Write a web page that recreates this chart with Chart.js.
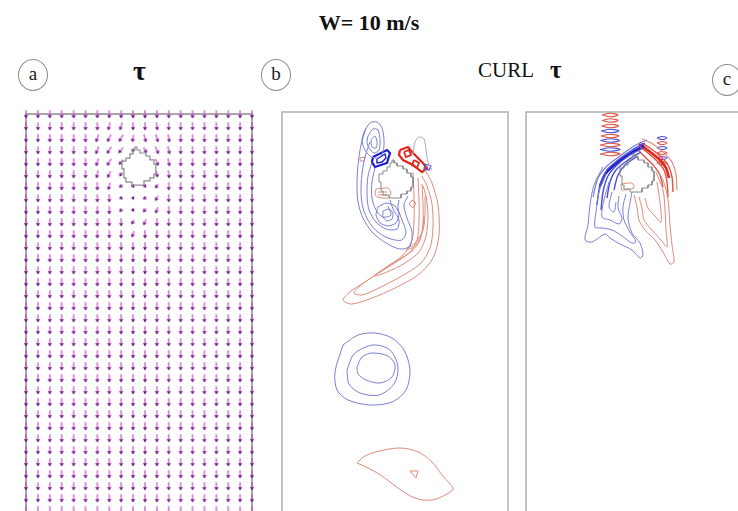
<!DOCTYPE html>
<html>
<head>
<meta charset="utf-8">
<script src="https://cdn.jsdelivr.net/npm/chart.js@4.4.1/dist/chart.umd.min.js"></script>
<style>
html, body { margin: 0; padding: 0; width: 738px; height: 511px; overflow: hidden; background: #fff; }
.txt { position: absolute; font-family: "Liberation Serif", "DejaVu Serif", serif; color: #111; white-space: nowrap; }
.tag { position: absolute; width: 30px; height: 32px; border: 1.3px solid #8c8c8c; border-radius: 50%;
       box-sizing: border-box; font-family: "Liberation Serif", serif; font-size: 19px; line-height: 28px;
       text-align: center; color: #222; }
canvas { position: absolute; }
</style>
</head>
<body>
<div class="txt" style="left:0;width:738px;top:12px;text-align:center;font-weight:bold;font-size:22px;line-height:22px;">W= 10 m/s</div>
<div class="txt" style="left:133px;top:57px;font-weight:bold;font-size:28px;line-height:28px;">τ</div>
<div class="txt" style="left:478px;top:60px;font-size:21px;line-height:21px;">CURL</div>
<div class="txt" style="left:550px;top:57px;font-weight:bold;font-size:25px;line-height:25px;">τ</div>
<div class="tag" style="left:18px;top:59px;">a</div>
<div class="tag" style="left:261px;top:59px;">b</div>
<div class="tag" style="left:712px;top:64px;">c</div>

<canvas id="panelA" width="242" height="436" style="left:18px;top:106px;"></canvas>
<canvas id="panelB" width="234" height="428" style="left:278px;top:108px;"></canvas>
<canvas id="panelC" width="234" height="428" style="left:522px;top:108px;"></canvas>

<script>
// ---- (a) wind stress vectors, grid indices ----
const tauCols = [0, 1, 2, 3, 4, 5, 6, 7, 8, 9, 10, 11, 12, 13, 14, 15, 16, 17, 18, 19];
const tauRows = [0, 1, 2, 3, 4, 5, 6, 7, 8, 9, 10, 11, 12, 13, 14, 15, 16, 17, 18, 19, 20,
                 21, 22, 23, 24, 25, 26, 27, 28, 29, 30, 31, 32, 33];
// undisturbed stress: southward, unit length
const tauTurn = 0;
const tauSize = 1;
// cells around the island: [col, row, turn from south (deg, + = westward), relative size]
const tauDisturbed = [
  [7, 1, 15, 1], [8, 1, 18, 1], [11, 1, -8, 1],
  [6, 2, 20, 1], [7, 2, 26, 1], [8, 2, 30, 1], [9, 2, 10, 0.9], [10, 2, -15, 1], [11, 2, -18, 1], [12, 2, -10, 1],
  [6, 3, 22, 1], [7, 3, 32, 1], [8, 3, 40, 0.9], [9, 3, 5, 0.5], [10, 3, -30, 0.8], [11, 3, -25, 1], [12, 3, -14, 1],
  [6, 4, 18, 1], [7, 4, 32, 1], [8, 4, 40, 0.8], [11, 4, -22, 0.9], [12, 4, -12, 1],
  [6, 5, 12, 1], [7, 5, 25, 0.9], [8, 5, 42, 0.6], [11, 5, -12, 0.8], [12, 5, -6, 1],
  [7, 6, 15, 0.9], [8, 6, 60, 0.5], [9, 6, 90, 0.4], [10, 6, 80, 0.4], [11, 6, 35, 0.6],
  [8, 7, 70, 0.4], [9, 7, 100, 0.35], [10, 7, 65, 0.45], [11, 7, 30, 0.7],
  [8, 8, 45, 0.5], [9, 8, 80, 0.4], [10, 8, 40, 0.6], [11, 8, 20, 0.8],
  [9, 9, 40, 0.6], [10, 9, 25, 0.8],
  [9, 10, 20, 0.8]
];
const tauLand = [[9, 4], [10, 4], [9, 5], [10, 5]];
const islandA = [[9.33, 2.75], [9.33, 3.0], [9.58, 3.0], [9.58, 3.25], [10.08, 3.25], [10.08, 3.5],
  [10.42, 3.5], [10.42, 3.83], [10.76, 3.83], [10.76, 4.17], [10.92, 4.17], [10.92, 5.0], [10.76, 5.0],
  [10.76, 5.33], [10.42, 5.33], [10.42, 5.58], [9.92, 5.58], [9.92, 5.92], [8.91, 5.92], [8.91, 5.67],
  [8.4, 5.67], [8.4, 5.33], [8.24, 5.33], [8.24, 4.58], [8.07, 4.58], [8.07, 3.92], [8.4, 3.92], [8.4, 3.67],
  [8.74, 3.67], [8.74, 3.33], [8.99, 3.33], [8.99, 3.0], [9.16, 3.0], [9.16, 2.75], [9.33, 2.75]];

// ---- (b) curl of stress, contour lines (km) ----
const islandB = [[112, 48], [112, 51], [115, 51], [115, 54], [121, 54], [121, 57], [125, 57], [125, 61], [129, 61],
  [129, 65], [131, 65], [131, 75], [129, 75], [129, 79], [125, 79], [125, 82], [119, 82], [119, 86], [107, 86],
  [107, 83], [101, 83], [101, 79], [99, 79], [99, 70], [97, 70], [97, 62], [101, 62], [101, 59], [105, 59],
  [105, 55], [108, 55], [108, 51], [110, 51], [110, 48], [112, 48]];
const bLobe1 = [[82, 20], [88, 11], [95, 10], [100, 16], [102, 28], [101, 40], [96, 46], [88, 44], [82, 36], [80, 28], [82, 20]];
const bLobe2 = [[86, 24], [91, 17], [96, 18], [98, 28], [97, 38], [92, 41], [87, 36], [85, 30], [86, 24]];
const bLobe3 = [[89, 28], [93, 24], [95, 30], [94, 36], [90, 35], [89, 28]];
const bNegCore = [[91, 45], [105, 38], [108, 41], [105, 51], [93, 55], [90, 50], [91, 45]];
const bNegCoreIn = [[95, 47], [103, 42], [104, 46], [100, 50], [95, 51], [95, 47]];
const bPosCore = [[118, 38], [126, 35], [131, 41], [140, 50], [145, 56], [140, 60], [131, 53], [121, 48], [117, 43], [118, 38]];
const bPosCoreIn1 = [[122, 40], [127, 38], [129, 43], [124, 45], [122, 40]];
const bPosCoreIn2 = [[132, 48], [137, 51], [135, 56], [130, 53], [132, 48]];
const bZeroLobe = [[131, 42], [133, 30], [137, 25], [142, 27], [144, 38], [146, 50], [150, 58]];
const bNegTick = [[143, 52], [149, 54], [147, 58], [142, 57], [143, 52]];
const bNeg1 = [[84, 16], [79, 33], [76, 53], [75, 73], [76, 90], [81, 106], [90, 120], [104, 131], [118, 137], [128, 134], [130, 120], [125, 106], [122, 93], [126, 84]];
const bNeg2 = [[88, 30], [83, 45], [80, 62], [79, 80], [81, 96], [87, 110], [97, 121], [109, 127], [120, 128], [124, 120], [120, 108], [116, 96], [117, 88]];
const bNeg3 = [[90, 50], [86, 64], [85, 82], [87, 98], [94, 110], [104, 117], [115, 117], [117, 108], [111, 97], [108, 88]];
const bNeg4 = [[93, 56], [90, 70], [90, 86], [94, 98], [101, 105], [109, 103], [106, 94]];
const bEddy1 = [[96, 95], [104, 91], [113, 94], [117, 102], [114, 111], [106, 114], [98, 111], [94, 103], [96, 95]];
const bEddy2 = [[101, 99], [107, 97], [111, 101], [110, 107], [105, 109], [101, 105], [101, 99]];
const bPosWest = [[94, 77], [106, 76], [109, 81], [106, 86], [95, 85], [93, 81], [94, 77]];
const bPosWestIn1 = [[96, 80], [105, 80]];
const bPosWestIn2 = [[96, 83], [105, 83]];
const bPosDot = [[130, 88], [134, 91], [131, 96], [127, 92], [130, 88]];
const bPosTick = [[78, 46], [83, 45], [82, 49], [78, 49], [78, 46]];
const bPos1 = [[131, 60], [132, 83], [132, 108], [130, 128], [121, 143], [103, 156], [83, 170], [68, 180], [61, 188],
  [70, 192], [90, 186], [113, 176], [136, 163], [151, 146], [157, 123], [156, 93], [150, 71], [143, 58]];
const bPos2 = [[136, 66], [137, 88], [137, 110], [135, 128], [127, 141], [111, 152], [92, 164], [78, 174], [72, 181],
  [80, 183], [97, 176], [118, 165], [138, 152], [148, 136], [151, 115], [150, 92], [145, 74], [140, 64]];
const bPos3 = [[140, 72], [141, 92], [141, 112], [138, 128], [130, 139], [116, 148], [102, 157], [93, 164],
  [105, 160], [123, 151], [137, 140], [144, 124], [146, 104], [144, 84], [141, 74]];
const bPos4 = [[143, 84], [143, 102], [141, 118], [134, 130], [124, 138], [134, 133], [140, 120], [142, 104]];
const bRing1 = [[61, 233], [76, 223], [93, 221], [110, 226], [122, 238], [128, 258], [124, 278], [110, 290], [88, 293], [66, 288], [55, 278], [53, 260], [61, 233]];
const bRing2 = [[65, 258], [72, 242], [91, 233], [108, 238], [116, 255], [112, 272], [97, 283], [78, 281], [67, 272], [65, 258]];
const bRing3 = [[75, 255], [80, 245], [90, 241], [106, 244], [113, 253], [110, 265], [98, 271], [84, 268], [76, 262], [75, 255]];
const bBlob = [[75, 351], [83, 344], [98, 339], [118, 336], [136, 340], [150, 350], [160, 363], [168, 372], [171, 377],
  [165, 382], [150, 388], [133, 386], [116, 376], [100, 364], [86, 356], [75, 351]];
const bBlobCore = [[128, 359], [136, 359], [134, 366], [128, 359]];

// ---- (c) curl of stress, contour lines (km) ----
const islandC = [[109, 42], [109, 45], [112, 45], [112, 48], [118, 48], [118, 51], [122, 51], [122, 55], [126, 55],
  [126, 59], [128, 59], [128, 69], [126, 69], [126, 73], [122, 73], [122, 76], [116, 76], [116, 80], [104, 80],
  [104, 77], [98, 77], [98, 73], [96, 73], [96, 64], [94, 64], [94, 56], [98, 56], [98, 53], [102, 53],
  [102, 49], [105, 49], [105, 45], [107, 45], [107, 42], [109, 42]];
const cLadderWest = [
  [[76, 3], [84, 1.3], [92, 3], [84, 4.7], [76, 3]],
  [[76, 8.5], [84, 6.8], [92, 8.5], [84, 10.2], [76, 8.5]],
  [[75.5, 14], [84, 12.3], [92.5, 14], [84, 15.7], [75.5, 14]],
  [[75, 19], [84, 17.3], [93, 19], [84, 20.7], [75, 19]],
  [[75, 24], [84, 22.3], [93, 24], [84, 25.7], [75, 24]],
  [[74.5, 28.5], [84, 26.8], [93.5, 28.5], [84, 30.2], [74.5, 28.5]],
  [[74, 33], [84, 31.3], [94, 33], [84, 34.7], [74, 33]],
  [[74, 37.5], [84, 35.8], [94, 37.5], [84, 39.2], [74, 37.5]],
  [[74, 42], [84, 40.3], [94, 42], [84, 43.7], [74, 42]]
];
const cLadderWestSign = [1, 1, 1, -1, 1, -1, 1, -1, 1];
const cLadderEast = [
  [[131, 26], [136, 24.5], [141, 26], [136, 27.5], [131, 26]],
  [[131, 31], [136, 29.5], [141, 31], [136, 32.5], [131, 31]],
  [[131, 36], [136, 34.5], [141, 36], [136, 37.5], [131, 36]],
  [[131, 41], [136, 39.5], [141, 41], [136, 42.5], [131, 41]],
  [[131, 46], [136, 44.5], [141, 46], [136, 47.5], [131, 46]],
  [[131, 51], [136, 49.5], [141, 51], [136, 52.5], [131, 51]]
];
const cLadderEastSign = [-1, 1, -1, 1, -1, 1];
const cNegBand1 = [[119, 31], [106, 38], [92, 48], [81, 58], [74, 73], [71, 93]];
const cNegBand2 = [[117, 36], [104, 43], [91, 53], [82, 64], [77, 80], [75, 98]];
const cNegBand3 = [[115, 40], [102, 48], [90, 58], [84, 70], [81, 86]];
const cNegBand4 = [[112, 44], [100, 52], [92, 63], [88, 78]];
const cNegBand5 = [[121, 28], [108, 34], [94, 44], [82, 53], [72, 66], [67, 85]];
const cNegCore = [[118, 34], [105, 41], [92, 50], [80, 61], [74, 74]];
const cPosBand1 = [[114, 30], [124, 36], [134, 44], [142, 53], [146, 65], [147, 80]];
const cPosBand2 = [[113, 34], [122, 41], [131, 49], [138, 58], [141, 70], [142, 85]];
const cPosBand3 = [[112, 38], [120, 46], [128, 54], [134, 63], [137, 75]];
const cPosBand4 = [[116, 27], [127, 32], [137, 40], [146, 50], [150, 62], [151, 78]];
const cPosCore = [[113, 32], [123, 39], [133, 47], [140, 56], [143, 66]];
const cPosCells = [
  [[118, 38], [120, 36.5], [122, 38], [120, 39.5], [118, 38]],
  [[126, 44], [128, 42.5], [130, 44], [128, 45.5], [126, 44]],
  [[134, 51], [136, 49.5], [138, 51], [136, 52.5], [134, 51]]
];
const cNeg1 = [[77, 55], [68, 73], [64, 93], [62, 113], [59, 128], [66, 130], [79, 122], [84, 126], [94, 132], [106, 138],
  [114, 146], [117, 143], [114, 131], [106, 121], [102, 106], [104, 91], [106, 80]];
const cNeg2 = [[80, 62], [73, 80], [70, 100], [69, 115], [76, 116], [86, 118], [96, 124], [106, 131], [110, 130],
  [104, 120], [98, 108], [97, 95], [100, 82]];
const cNeg3 = [[83, 70], [78, 88], [76, 105], [84, 108], [93, 112], [96, 106], [92, 96], [93, 84]];
const cNeg4 = [[86, 80], [83, 95], [88, 100], [90, 90]];
const cPos1 = [[127, 53], [137, 68], [142, 88], [144, 113], [146, 133], [148, 150], [144, 152], [137, 140], [129, 128],
  [119, 118], [113, 108], [111, 95], [108, 83]];
const cPos2 = [[130, 60], [137, 78], [139, 98], [140, 118], [141, 135], [135, 128], [126, 118], [118, 108], [116, 96], [113, 85]];
const cPos3 = [[131, 70], [134, 90], [135, 110], [129, 104], [122, 96], [119, 86]];
const cPosWest = [[95, 72], [106, 71], [108, 76], [96, 78], [95, 72]];

const NEG = '#7a7ed6', NEG_DARK = '#1c1cc8', NEG_MID = '#4a4cd8';
const POS = '#e08a7c', POS_DARK = '#e2261c', POS_MID = '#e2503f';
const ZERO = '#a6a6c8', LAND = '#8a8a8a';

function line(points, color, width, tension) {
  return {
    data: points.map(p => ({ x: p[0], y: p[1] })),
    showLine: true,
    borderColor: color,
    borderWidth: width,
    tension: tension,
    pointRadius: 0,
    pointHoverRadius: 0,
    fill: false,
    clip: false
  };
}

const panelFrame = {
  id: 'panelFrame',
  beforeDatasetsDraw(chart, args, opts) {
    const a = chart.chartArea;
    const ctx = chart.ctx;
    ctx.save();
    ctx.strokeStyle = opts.color;
    ctx.lineWidth = opts.width;
    ctx.strokeRect(a.left, a.top, a.right - a.left, a.bottom - a.top);
    ctx.restore();
  }
};

function panelOptions(xmax, ymax, pad, frameColor) {
  return {
    responsive: false,
    animation: false,
    events: [],
    layout: { padding: pad },
    plugins: {
      legend: { display: false },
      tooltip: { enabled: false },
      panelFrame: { color: frameColor, width: 1.5 }
    },
    scales: {
      x: { type: 'linear', min: 0, max: xmax, display: false },
      y: { type: 'linear', min: 0, max: ymax, reverse: true, display: false }
    }
  };
}

// arrow glyph, pointing south, scaled by relative size
const sprites = {};
function arrowSprite(size) {
  const key = size.toFixed(2);
  if (sprites[key]) return sprites[key];
  const len = 7.5 * size;
  const c = document.createElement('canvas');
  c.width = 14; c.height = 14;
  const g = c.getContext('2d');
  g.translate(7, 7);
  g.strokeStyle = '#c84ac8';
  g.lineWidth = 1.2;
  g.beginPath(); g.moveTo(0, -len / 2); g.lineTo(0, len / 2); g.stroke();
  g.fillStyle = '#74228e';
  g.beginPath();
  g.moveTo(0, len / 2 + 0.8);
  g.lineTo(-2.2, len / 2 - 2.4);
  g.lineTo(2.2, len / 2 - 2.4);
  g.closePath(); g.fill();
  sprites[key] = c;
  return c;
}

// build the vector table from the grid
const vecPts = [], vecTurn = [], vecSize = [];
tauRows.forEach(r => {
  tauCols.forEach(c => {
    if (tauLand.some(l => l[0] === c && l[1] === r)) return;
    const d = tauDisturbed.find(v => v[0] === c && v[1] === r);
    vecPts.push({ x: c, y: r });
    vecTurn.push(d ? d[2] : tauTurn);
    vecSize.push(d ? d[3] : tauSize);
  });
});

new Chart(document.getElementById('panelA'), {
  type: 'scatter',
  data: {
    datasets: [
      line(islandA, LAND, 1.2, 0),
      {
        data: vecPts,
        pointRadius: 3,
        pointHoverRadius: 3,
        pointStyle: ctx => arrowSprite(vecSize[ctx.dataIndex]),
        rotation: ctx => vecTurn[ctx.dataIndex],
        clip: false
      }
    ]
  },
  options: panelOptions(19, 35, 8, '#8a8a8a'),
  plugins: [panelFrame]
});

const bSets = [
  line(islandB, LAND, 1, 0),
  line(bLobe1, NEG, 1, 0.3), line(bLobe2, NEG, 1, 0.3), line(bLobe3, NEG, 1, 0.3),
  line(bNeg1, NEG, 1, 0.3), line(bNeg2, NEG, 1, 0.3), line(bNeg3, NEG, 1, 0.3), line(bNeg4, NEG, 1, 0.3),
  line(bEddy1, NEG, 1, 0.2), line(bEddy2, NEG, 1, 0.2),
  line(bNegCore, NEG_DARK, 2.2, 0), line(bNegCoreIn, NEG_DARK, 1.4, 0),
  line(bZeroLobe, ZERO, 1, 0.3), line(bNegTick, NEG_MID, 1.2, 0),
  line(bPos1, POS, 1, 0.3), line(bPos2, POS, 1, 0.3), line(bPos3, POS, 1, 0.3), line(bPos4, POS, 1, 0.3),
  line(bPosCore, POS_DARK, 2.2, 0), line(bPosCoreIn1, POS_DARK, 1.8, 0), line(bPosCoreIn2, POS_DARK, 1.8, 0),
  line(bPosWest, POS, 1, 0.2), line(bPosWestIn1, POS, 1, 0), line(bPosWestIn2, POS, 1, 0),
  line(bPosDot, POS, 1, 0), line(bPosTick, POS, 1, 0),
  line(bRing1, NEG, 1, 0.3), line(bRing2, NEG, 1, 0.3), line(bRing3, NEG, 1, 0.3),
  line(bBlob, POS, 1, 0.35), line(bBlobCore, POS, 1, 0)
];

new Chart(document.getElementById('panelB'), {
  type: 'scatter',
  data: { datasets: bSets },
  options: panelOptions(226, 420, 4, '#b0b0b0'),
  plugins: [panelFrame]
});

const cSets = [
  line(islandC, LAND, 1, 0),
  line(cNeg1, NEG, 1, 0.3), line(cNeg2, NEG, 1, 0.3), line(cNeg3, NEG, 1, 0.3), line(cNeg4, NEG, 1, 0.3),
  line(cPos1, POS, 1, 0.3), line(cPos2, POS, 1, 0.3), line(cPos3, POS, 1, 0.3),
  line(cPosWest, POS, 1, 0.2),
  line(cNegBand1, NEG_MID, 1.4, 0.3), line(cNegBand2, NEG_MID, 1.4, 0.3), line(cNegBand3, NEG_MID, 1.4, 0.3),
  line(cNegBand4, NEG_MID, 1.4, 0.3), line(cNegBand5, NEG, 1.2, 0.3),
  line(cPosBand1, POS_MID, 1.4, 0.3), line(cPosBand2, POS_MID, 1.4, 0.3), line(cPosBand3, POS_MID, 1.4, 0.3),
  line(cPosBand4, POS, 1.2, 0.3),
  line(cNegCore, NEG_DARK, 2.6, 0.3), line(cPosCore, POS_DARK, 2.6, 0.3)
];
cLadderWest.forEach((l, i) => cSets.push(line(l, cLadderWestSign[i] > 0 ? POS_MID : NEG_MID, 1.1, 0.4)));
cLadderEast.forEach((l, i) => cSets.push(line(l, cLadderEastSign[i] > 0 ? POS_MID : NEG_MID, 1.1, 0.4)));
cPosCells.forEach(l => cSets.push(line(l, '#ffffff', 1.6, 0.4)));

new Chart(document.getElementById('panelC'), {
  type: 'scatter',
  data: { datasets: cSets },
  options: panelOptions(226, 420, 4, '#b0b0b0'),
  plugins: [panelFrame]
});
</script>
</body>
</html>
